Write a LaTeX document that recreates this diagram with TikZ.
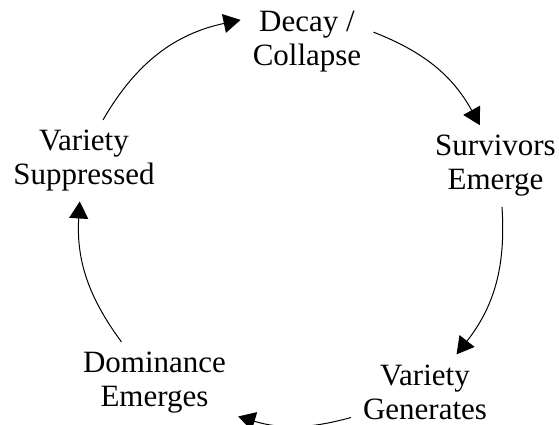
\documentclass[tikz,border=0pt]{standalone}
\usepackage{fontspec}
\setmainfont{Liberation Serif}
\usetikzlibrary{arrows.meta}
\begin{document}
\begin{tikzpicture}[x=1pt,y=1pt,
  lbl/.style={align=center, font=\fontsize{31}{34}\selectfont, inner xsep=12pt, inner ysep=10pt},
  arr/.style={line width=1pt, -{Triangle[length=17pt,width=19pt]}}]
\useasboundingbox (0,0) rectangle (559,425);
\node[lbl] (d) at (307,383.5) {Decay /\\Collapse};
\node[lbl] (s) at (495.5,259) {Survivors\\Emerge};
\node[lbl] (g) at (425,33) {Variety\\Generates};
\node[lbl] (m) at (154.5,42.3) {Dominance\\Emerges};
\node[lbl] (v) at (84,264.3) {Variety\\Suppressed};
\draw[arr] (d.8) to[bend left=20] (s.111);
\draw[arr] (s.-81) to[bend left=21] (g.50);
\draw[arr] (g.199) to[bend left=16] (m.-22);
\draw[arr] (m.129) to[bend left=20] (v.-96);
\draw[arr] (v.65) to[bend left=24] (d.162);
\end{tikzpicture}
\end{document}
